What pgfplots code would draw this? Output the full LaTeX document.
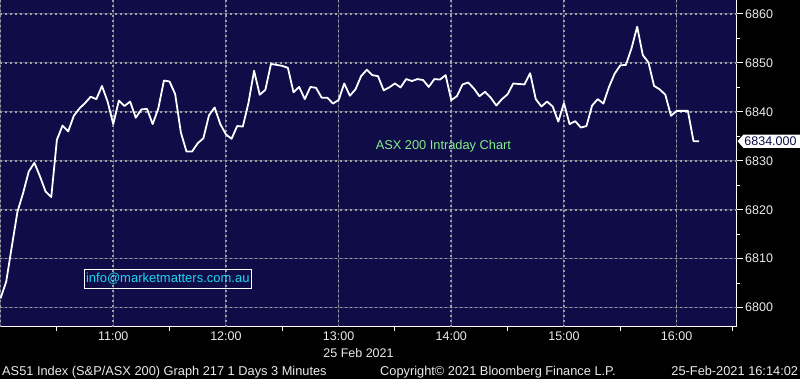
\documentclass[border=0pt]{standalone}
\usepackage{pgfplots}
\pgfplotsset{compat=1.18}
\usepackage{pgfplotstable}
\usepackage{fontspec}
\setmainfont{Liberation Sans}
\definecolor{navy}{RGB}{15,12,72}
\definecolor{gridgray}{RGB}{160,160,160}
\definecolor{gridmix}{RGB}{72,70,112}
\definecolor{lgreen}{RGB}{135,238,135}
\definecolor{mailcyan}{RGB}{25,215,240}
\definecolor{lbl}{RGB}{235,235,235}

\pgfplotstableread{
t v
0 6801.9
3 6805.3
6 6812.5
9 6819.6
12 6823.4
15 6827.8
18 6829.6
21 6826.8
24 6823.7
27 6822.6
30 6834.3
33 6837.2
36 6836.0
39 6839.2
42 6840.7
45 6841.8
48 6843.1
51 6842.6
54 6845.3
57 6842.1
60 6837.5
63 6842.3
66 6841.2
69 6842.1
72 6838.8
75 6840.5
78 6840.6
81 6837.5
84 6840.7
87 6846.4
90 6846.2
93 6843.6
96 6835.8
99 6831.9
102 6831.9
105 6833.6
108 6834.6
111 6839.3
114 6840.9
117 6837.5
120 6835.4
123 6834.5
126 6837.1
129 6837.0
132 6841.8
135 6848.4
138 6843.5
141 6844.5
144 6849.8
147 6849.6
150 6849.4
153 6849.0
156 6844.0
159 6845.1
162 6842.6
165 6845.1
168 6844.9
171 6842.9
174 6842.9
177 6841.7
180 6842.4
183 6845.8
186 6843.3
189 6844.6
192 6847.3
195 6848.6
198 6847.5
201 6847.3
204 6844.4
207 6845.0
210 6845.8
213 6845.0
216 6846.7
219 6846.3
222 6846.7
225 6846.5
228 6845.1
231 6846.7
234 6846.6
237 6847.5
240 6842.4
243 6843.2
246 6845.6
249 6846.0
252 6844.8
255 6843.2
258 6844.1
261 6842.9
264 6841.3
267 6842.6
270 6843.6
273 6845.8
276 6845.7
279 6845.6
282 6847.9
285 6842.6
288 6841.1
291 6842.1
294 6841.1
297 6838.0
300 6841.8
303 6837.5
306 6838.1
309 6836.8
312 6837.1
315 6841.3
318 6842.6
321 6841.7
324 6845.1
327 6847.8
330 6849.5
333 6849.6
336 6853.0
339 6857.4
342 6851.6
345 6850.1
348 6845.3
351 6844.6
354 6843.5
357 6839.2
360 6840.2
363 6840.2
366 6840.2
369 6834.0
372 6834.0
}\asxdata

\begin{document}
\begin{tikzpicture}
\fill[black] (0pt,0pt) rectangle (800pt,379pt);
\fill[navy] (0pt,52.3pt) rectangle (736.7pt,379pt);
\begin{axis}[
  at={(0pt,52.3pt)}, anchor=south west,
  width=736.7pt, height=326.7pt, scale only axis,
  xmin=-0.3, xmax=392, ymin=6796.1, ymax=6862.86,
  clip=false,
  axis x line*=bottom, axis y line*=right,
  axis line style={white, line width=1pt, -},
  xtick={0,60,120,180,240,300,360},
  xticklabels={,11:00,12:00,13:00,14:00,15:00,16:00},
  xtick style={draw=none},
  ytick={6800,6810,6820,6830,6840,6850,6860},
  minor ytick={6805,6815,6825,6835,6845,6855},
  ytick style={draw=white, line width=1pt},
  major tick length=6pt, minor tick length=3.5pt,
  tick align=outside,
  yticklabel pos=right,
  /pgf/number format/assume math mode=true,
  /pgf/number format/1000 sep={},
  ticklabel style={font=\fontsize{12.5}{14}\selectfont, text=lbl},
  xticklabel shift=-4pt,
  yticklabel style={xshift=-1pt},
]
\pgfplotsinvokeforeach{0,60,120,180,240,300,360}{
  \draw[gridmix, line width=1pt] (axis cs:#1,6862.86) -- (axis cs:#1,6796.1);
  \draw[gridgray, line width=1.6pt, dash pattern=on 2pt off 3pt] (axis cs:#1,6862.86) -- (axis cs:#1,6796.1);
}
\pgfplotsinvokeforeach{6800,6810,6820,6830,6840,6850,6860}{
  \draw[gridmix, line width=1pt] (axis cs:-0.3,#1) -- (axis cs:392,#1);
  \draw[gridgray, line width=1.6pt, dash pattern=on 2pt off 3pt] (axis cs:-0.3,#1) -- (axis cs:392,#1);
}
\addplot[white, line width=1.8pt, line join=round] table[x=t, y=v] {\asxdata};
\pgfplotsinvokeforeach{30,90,150,210,270,330,390}{
  \draw[white, line width=1pt] (axis cs:#1,6796.1) -- ([yshift=-4pt]axis cs:#1,6796.1);
}
\coordinate (lastp) at (axis cs:392,6834);
\end{axis}
% last price tag
\fill[white] ([xshift=0.8pt]lastp) -- ([xshift=6.8pt,yshift=6.7pt]lastp) -- ([xshift=70pt,yshift=6.7pt]lastp) -- ([xshift=70pt,yshift=-6.7pt]lastp) -- ([xshift=6.8pt,yshift=-6.7pt]lastp) -- cycle;
\node[anchor=west, inner sep=0pt, text=navy, font=\fontsize{12.5}{14}\selectfont] at ([xshift=7.5pt]lastp) {6834.000};
% annotations
\node[text=lgreen, font=\fontsize{12.8}{14}\selectfont, inner sep=0pt] at (443.4pt,233.3pt) {ASX 200 Intraday Chart};
\draw[white, line width=1pt] (84.2pt,90.7pt) rectangle (251.5pt,109.7pt);
\node[text=mailcyan, font=\fontsize{13}{15}\selectfont, inner sep=0pt] at (167.8pt,100.2pt) {info@marketmatters.com.au};
\node[text=lbl, font=\fontsize{12.5}{14}\selectfont, inner sep=0pt] at (358.5pt,26.3pt) {25 Feb 2021};
\node[text=lbl, anchor=base west, font=\fontsize{12.8}{14}\selectfont, inner sep=0pt] at (2pt,3.5pt) {AS51 Index (S\&P/ASX 200) Graph 217 1 Days 3 Minutes};
\node[text=lbl, anchor=base west, font=\fontsize{12.8}{14}\selectfont, inner sep=0pt] at (380pt,3.5pt) {Copyright© 2021 Bloomberg Finance L.P.};
\node[text=lbl, anchor=base east, font=\fontsize{12.8}{14}\selectfont, inner sep=0pt] at (798.3pt,3.5pt) {25-Feb-2021 16:14:02};
\pgfresetboundingbox
\useasboundingbox (0pt,0pt) rectangle (800pt,379pt);
\end{tikzpicture}
\end{document}
